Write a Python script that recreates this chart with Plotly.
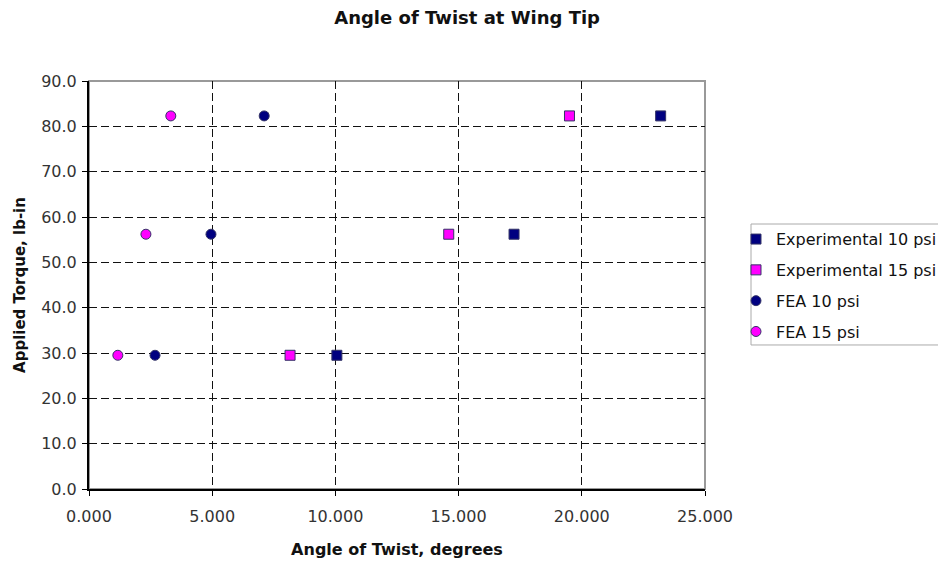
import plotly.graph_objects as go

torque = [29.5, 56.2, 82.3]
exp10_twist = [10.06, 17.25, 23.2]
exp15_twist = [8.16, 14.6, 19.5]
fea10_twist = [2.68, 4.95, 7.11]
fea15_twist = [1.17, 2.31, 3.32]

series = [
    ("Experimental 10 psi", exp10_twist, "square", "#000080"),
    ("Experimental 15 psi", exp15_twist, "square", "#FF00FF"),
    ("FEA 10 psi", fea10_twist, "circle", "#000080"),
    ("FEA 15 psi", fea15_twist, "circle", "#FF00FF"),
]

fig = go.Figure()
for i, (name, xs, sym, col) in enumerate(series):
    fig.add_trace(go.Scatter(
        x=xs, y=torque, mode="markers", name=name, legendgroup=f"g{i}",
        marker=dict(symbol=sym, size=10, color=col,
                    line=dict(color="#333366", width=1)),
    ))

font = "DejaVu Sans, sans-serif"
fig.update_layout(
    width=938, height=565,
    margin=dict(l=89, r=233, t=81, b=76, autoexpand=False),
    paper_bgcolor="white", plot_bgcolor="white",
    font=dict(family=font, size=15, color="#222"),
    title=dict(text="<b>Angle of Twist at Wing Tip</b>", x=0.498, xanchor="center",
               y=0.968, yanchor="middle", font=dict(size=18, color="#111")),
    showlegend=True,
    legend=dict(x=1.0503, y=0.654, xanchor="left", yanchor="top",
                borderwidth=0, bgcolor="rgba(0,0,0,0)",
                tracegroupgap=7, font=dict(size=16, color="#111")),
    shapes=[
        dict(type="rect", xref="paper", yref="paper", x0=0, y0=0, x1=1, y1=1,
             line=dict(color="#999", width=2), layer="below"),
        dict(type="rect", xref="paper", yref="paper", x0=1.0747, y0=0.353, x1=1.7, y1=0.6495,
             line=dict(color="#aaa", width=1), fillcolor="white", layer="below"),
    ],
)
fig.update_xaxes(
    range=[0, 25], tickvals=[0, 5, 10, 15, 20, 25], tickformat=".3f",
    showgrid=True, griddash="8px,4px", gridcolor="#111", gridwidth=1,
    showline=True, linecolor="black", linewidth=2, zeroline=False,
    ticks="outside", ticklen=5, tickcolor="black", ticklabelstandoff=7,
    tickfont=dict(size=16, color="#333"),
    title=dict(text="<b>Angle of Twist, degrees</b>", font=dict(size=16, color="#111"), standoff=19),
)
fig.update_yaxes(
    range=[0, 90], dtick=10, tickformat=".1f",
    showgrid=True, griddash="8px,4px", gridcolor="#111", gridwidth=1,
    showline=True, linecolor="black", linewidth=2, zeroline=False,
    ticks="outside", ticklen=5, tickcolor="black", ticklabelstandoff=2,
    tickfont=dict(size=16, color="#333"),
    title=dict(text="<b>Applied Torque, lb-in</b>", font=dict(size=15, color="#111"), standoff=12),
)
fig.write_html("out.html", config={"displayModeBar": False},
               post_script="document.body.style.margin='0';")
